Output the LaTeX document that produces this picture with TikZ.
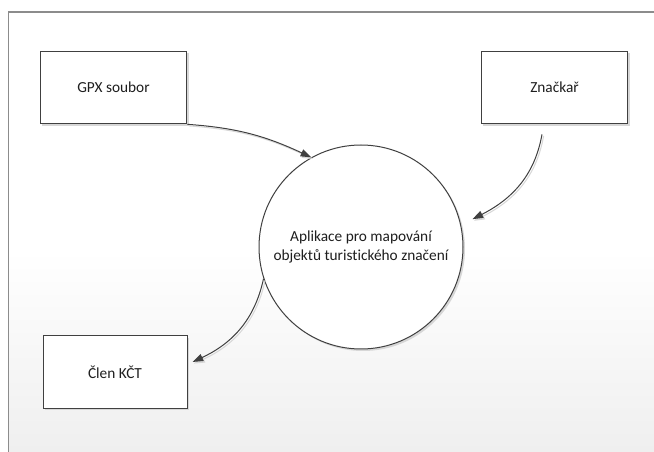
\documentclass[tikz,border=0pt]{standalone}
\usepackage{fontspec}
\setmainfont{Carlito}[Ligatures=NoCommon]
\usetikzlibrary{arrows.meta,shadows,calc}

\definecolor{edge}{RGB}{64,64,64}
\definecolor{frameline}{RGB}{140,140,140}
\definecolor{paperlow}{RGB}{239,239,239}
\definecolor{shade}{RGB}{215,215,215}
\definecolor{ink}{RGB}{30,30,30}

\tikzset{
  entity/.style={draw=edge, line width=0.75pt, fill=white, minimum width=110pt,
    minimum height=54.5pt, inner sep=0pt, text=ink, font=\fontsize{11.5}{13.5}\selectfont,
    drop shadow={shadow xshift=1.5pt, shadow yshift=-1.5pt, fill=shade, opacity=1}},
  process/.style={circle, draw=edge, line width=0.75pt, fill=white, minimum size=153pt,
    inner sep=0pt, align=center, text=ink, font=\fontsize{11.5}{14}\selectfont,
    drop shadow={shadow xshift=1.5pt, shadow yshift=-1.5pt, fill=shade, opacity=1}},
  flow/.style={draw=edge, line width=0.75pt,
    -{Triangle[length=8pt,width=5.5pt]},
    preaction={draw=shade, line width=0.75pt, -{Triangle[length=8pt,width=5.5pt]},
      transform canvas={shift={(1.2pt,-1.2pt)}}}}
}

\begin{document}
\begin{tikzpicture}[x=0.75pt,y=-0.75pt]
  \useasboundingbox (0,0) rectangle (654,452);
  % page background with its soft gradient towards the bottom
  \fill[white] (0,0) rectangle (654,452);
  \shade[top color=white, bottom color=paperlow] (8.5,250) rectangle (654,452);
  \draw[frameline, line width=0.9pt] (8.5,452) -- (8.5,12) -- (654,12);

  % external entities and the central process
  \node[entity] (gpx) at (113.5,87.5) {GPX soubor};
  \node[entity] (znackar) at (554.5,87.5) {Značkař};
  \node[entity, minimum width=108pt] (clen) at (115,372) {Člen KČT};
  \node[process] (app) at (361,247) {Aplikace pro mapování\\objektů turistického značení};

  % data flows
  \draw[flow] (gpx.south east) to[out=-4, in=155] (app.119);
  \draw[flow] ($(znackar.south)+(-12.5,10)$) to[out=-100, in=27] ($(app.14)+(12,-3)$);
  \draw[flow] (app.198) to[out=-102, in=25] ($(clen.east)+(5,-10)$);
\end{tikzpicture}
\end{document}
